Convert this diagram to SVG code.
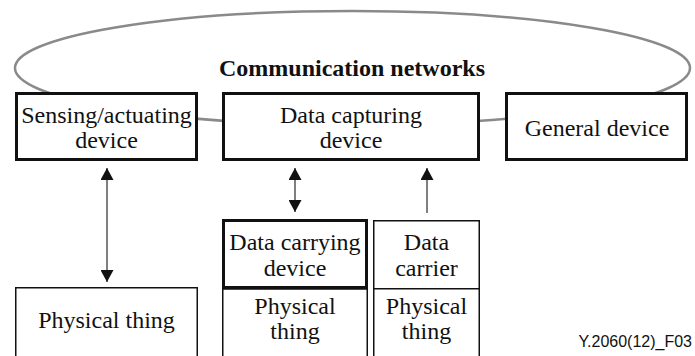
<svg xmlns="http://www.w3.org/2000/svg" width="695" height="356" viewBox="0 0 695 356">
<style>
  .t { font-family: 'Liberation Serif', 'Times New Roman', serif; font-size: 24px; fill: #111; text-anchor: middle; }
  .b { font-weight: bold; }
  .thick { fill: #fff; stroke: #111; stroke-width: 3; }
  .thin { fill: #fff; stroke: #111; stroke-width: 1.5; }
  .conn { stroke: #555; stroke-width: 1.5; fill: none; }
  .net { fill: none; stroke: #8a8a8a; stroke-width: 2.5; }
  .ref { font-family: 'Liberation Sans', Arial, sans-serif; font-size: 16px; fill: #111; text-anchor: end; }
</style>
<defs>
  <marker id="ah" viewBox="0 0 12 13" refX="12" refY="6.5" markerWidth="12" markerHeight="13" markerUnits="userSpaceOnUse" orient="auto-start-reverse">
    <path d="M0,0 L12,6.5 L0,13 Z" fill="#111"/>
  </marker>
</defs>

<g id="network">
  <ellipse class="net" cx="352.5" cy="68" rx="337.5" ry="57"/>
  <text class="t b" x="352" y="76">Communication networks</text>
</g>

<g id="connectors">
  <line class="conn" x1="107" y1="168" x2="107" y2="282" marker-start="url(#ah)" marker-end="url(#ah)"/>
  <line class="conn" x1="295" y1="168" x2="295" y2="212" marker-start="url(#ah)" marker-end="url(#ah)"/>
  <line class="conn" x1="427" y1="213" x2="427" y2="168" marker-end="url(#ah)"/>
</g>

<g id="sensing">
  <rect class="thick" x="16.5" y="93.5" width="180" height="66"/>
  <text class="t" x="106.5" y="123">Sensing/actuating</text>
  <text class="t" x="106.5" y="148">device</text>
</g>

<g id="capturing">
  <rect class="thick" x="223.5" y="93.5" width="255" height="66"/>
  <text class="t" x="351" y="123">Data capturing</text>
  <text class="t" x="351" y="148">device</text>
</g>

<g id="general">
  <rect class="thick" x="506.5" y="93.5" width="180" height="66"/>
  <text class="t" x="597" y="136">General device</text>
</g>

<g id="physical1">
  <rect class="thin" x="15.75" y="287.75" width="181.5" height="80"/>
  <text class="t" x="106.5" y="328">Physical thing</text>
</g>

<g id="physical2">
  <rect class="thin" x="222.75" y="289" width="144.5" height="80"/>
  <text class="t" x="295" y="314">Physical</text>
  <text class="t" x="295" y="339">thing</text>
</g>

<g id="carrying">
  <rect class="thick" x="223.5" y="220.5" width="143" height="67"/>
  <text class="t" x="295" y="250">Data carrying</text>
  <text class="t" x="295" y="276">device</text>
</g>

<g id="carrier">
  <rect class="thin" x="373.75" y="220.75" width="105.5" height="68"/>
  <text class="t" x="426.5" y="250">Data</text>
  <text class="t" x="426.5" y="276">carrier</text>
</g>

<g id="physical3">
  <rect class="thin" x="373.75" y="288.75" width="105.5" height="80"/>
  <text class="t" x="426.5" y="314">Physical</text>
  <text class="t" x="426.5" y="339">thing</text>
</g>

<text class="ref" x="692" y="347">Y.2060(12)_F03</text>
</svg>
